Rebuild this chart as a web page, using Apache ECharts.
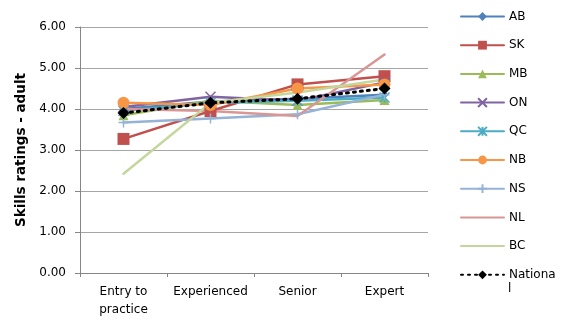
<!DOCTYPE html>
<html><head><meta charset="utf-8">
<script src="https://cdn.jsdelivr.net/npm/echarts@6/dist/echarts.min.js"></script>
<style>html,body{margin:0;padding:0;background:#fff}#c{width:567px;height:322px}</style>
</head><body><div id="c"></div>
<script>
const categories = ['Entry to\npractice', 'Experienced', 'Senior', 'Expert'];
const yTicks = [0, 1, 2, 3, 4, 5, 6];
const AB = [4.00, 4.18, 4.25, 4.35];
const SK = [3.27, 3.95, 4.60, 4.80];
const MB = [3.85, 4.20, 4.10, 4.22];
const ON = [4.05, 4.30, 4.20, 4.65];
const QC = [3.95, 4.15, 4.20, 4.28];
const NB = [4.15, 4.10, 4.50, 4.60];
const NS = [3.67, 3.77, 3.87, 4.35];
const NL = [4.00, 3.95, 3.83, 5.33];
const BC = [2.42, 4.15, 4.40, 4.72];
const National = [3.90, 4.15, 4.25, 4.50];

const seriesNames = ['AB','SK','MB','ON','QC','NB','NS','NL','BC','National'];
const seriesData = [AB,SK,MB,ON,QC,NB,NS,NL,BC,National];
const colors = ['#4F81BD','#C0504D','#9BBB59','#8064A2','#4BACC6','#F79646','#95B3D7','#D99694','#C3D69B','#000000'];
const xPath = 'path://M0,0L10,10M10,0L0,10';
const starPath = 'path://M0,0L10,10M10,0L0,10M5,0L5,10';
const plusPath = 'path://M5,0L5,10M0,5L10,5';
const symbols = ['diamond','rect','triangle',xPath,starPath,'circle',plusPath,'none','none','diamond'];
const sizes = [8,12,10,10,10,12,10,0,0,12];
const FONT = 'DejaVu Sans, Verdana, sans-serif';

const chart = echarts.init(document.getElementById('c'));
const series = seriesNames.map((n,i)=>{
  const isPath = typeof symbols[i]==='string' && symbols[i].startsWith('path');
  return {
    name:n, type:'line', data:seriesData[i],
    symbol: symbols[i], symbolSize: sizes[i], showSymbol: symbols[i]!=='none',
    lineStyle:{color:colors[i], width: n==='National'?3:2.5, type: n==='National'?[2,5]:'solid', cap:'round'},
    itemStyle: isPath ? {color:'none', borderColor:colors[i], borderWidth:1.5} : {color:colors[i], borderWidth:0},
    z: n==='National'?10:2,
    animation:false
  };
});
chart.setOption({
  animation:false,
  color: colors,
  grid:{left:80, right:139, top:27, bottom:49},
  legend:{
    orient:'vertical', left:455, top:4, itemGap:13.7, itemWidth:43, itemHeight:11,
    data: seriesNames.map(n => (n==='NL'||n==='BC') ? {name:n, itemStyle:{opacity:0}} : {name:n}),
    textStyle:{fontFamily:FONT, fontSize:12, color:'#000', lineHeight:15},
    formatter: n => n==='National' ? 'Nationa' : n
  },
  graphic:[{type:'text', left:508, top:283, style:{text:'l', fontFamily:FONT, fontSize:12, fill:'#000'}}],
  xAxis:{
    type:'category', data:categories, boundaryGap:true,
    axisLine:{lineStyle:{color:'#868686'}},
    axisTick:{show:true, interval:0, length:4, lineStyle:{color:'#868686'}},
    axisLabel:{interval:0, hideOverlap:false, fontFamily:FONT, fontSize:12, color:'#000', lineHeight:18, margin:10}
  },
  yAxis:{
    type:'value', min:0, max:6, interval:1,
    name:'Skills ratings - adult', nameLocation:'middle', nameGap:52,
    nameTextStyle:{fontFamily:FONT, fontSize:13.5, fontWeight:'bold', color:'#000'},
    axisLine:{show:true, lineStyle:{color:'#868686'}},
    axisTick:{show:true, length:5, lineStyle:{color:'#868686'}},
    splitLine:{lineStyle:{color:'#A6A6A6'}},
    axisLabel:{fontFamily:FONT, fontSize:12, color:'#000', margin:14,
      formatter: v => yTicks.includes(v) ? v.toFixed(2) : ''}
  },
  series: series
});
</script></body></html>
